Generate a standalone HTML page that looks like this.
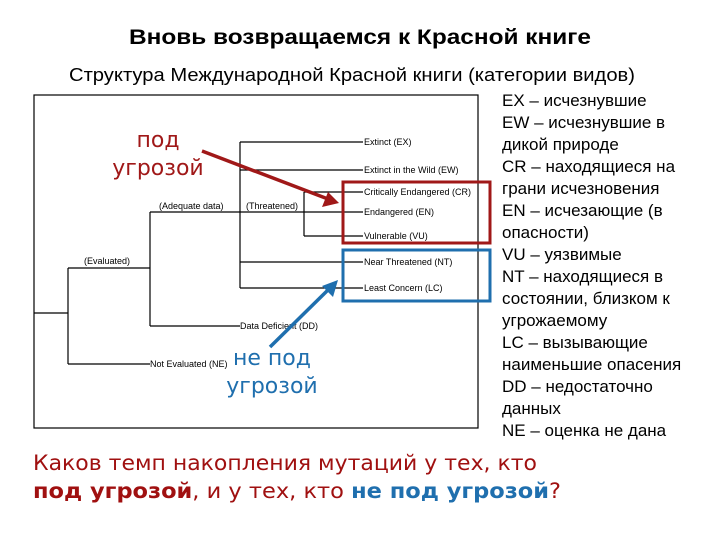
<!DOCTYPE html>
<html><head><meta charset="utf-8"><style>
html,body{margin:0;padding:0;background:#fff;}
svg{display:block}
</style></head><body>
<svg width="720" height="540" viewBox="0 0 720 540" xmlns="http://www.w3.org/2000/svg">
<text x="360" y="44" text-anchor="middle" font-family="Liberation Sans, DejaVu Sans, sans-serif" font-weight="bold" font-size="21" textLength="462" lengthAdjust="spacingAndGlyphs">Вновь возвращаемся к Красной книге</text>
<text x="352" y="81" text-anchor="middle" font-family="Liberation Sans, sans-serif" font-size="18" textLength="566" lengthAdjust="spacingAndGlyphs">Структура Международной Красной книги (категории видов)</text>

<rect x="34" y="95" width="444" height="333" fill="none" stroke="#000" stroke-width="1.2"/>
<g stroke="#000" stroke-width="1.2" fill="none">
<path d="M34 313H68M68 268V364M68 268H150M68 364H150M150 212V326M150 212H363M150 326H240M240 142V288M240 142H363M240 170H363M240 262H363M240 288H363M304 192V236M304 192H363M304 236H363"/>
</g>
<g font-family="Liberation Sans, sans-serif" font-size="9" fill="#000">
<text x="84" y="264">(Evaluated)</text>
<text x="159" y="209">(Adequate data)</text>
<text x="246" y="209">(Threatened)</text>
<text x="364" y="145">Extinct (EX)</text>
<text x="364" y="173">Extinct in the Wild (EW)</text>
<text x="364" y="195">Critically Endangered (CR)</text>
<text x="364" y="215">Endangered (EN)</text>
<text x="364" y="239">Vulnerable (VU)</text>
<text x="364" y="265">Near Threatened (NT)</text>
<text x="364" y="291">Least Concern (LC)</text>
<text x="240" y="329">Data Deficient (DD)</text>
<text x="150" y="367">Not Evaluated (NE)</text>
</g>
<rect x="343" y="182" width="147" height="61" fill="none" stroke="#a01818" stroke-width="3"/>
<rect x="343" y="250" width="147" height="51" fill="none" stroke="#1f6fae" stroke-width="3"/>
<line x1="202" y1="151" x2="328" y2="199" stroke="#a01818" stroke-width="3.5"/>
<polygon points="339,203 322,207 328,192" fill="#a01818"/>
<line x1="270" y1="347" x2="330" y2="288" stroke="#1f6fae" stroke-width="3.5"/>
<polygon points="338,280 333,297 322,286" fill="#1f6fae"/>
<g font-family="DejaVu Sans, sans-serif" font-size="22" fill="#a01818" text-anchor="middle">
<text x="158" y="147">под</text><text x="158" y="175">угрозой</text>
</g>
<g font-family="DejaVu Sans, sans-serif" font-size="22" fill="#1f6fae" text-anchor="middle">
<text x="272" y="365">не под</text><text x="272" y="393">угрозой</text>
</g>
<g font-family="Liberation Sans, sans-serif" font-size="17" fill="#000">
<text x="502" y="106">EX – исчезнувшие</text>
<text x="502" y="128">EW – исчезнувшие в</text>
<text x="502" y="150">дикой природе</text>
<text x="502" y="172">CR – находящиеся на</text>
<text x="502" y="194">грани исчезновения</text>
<text x="502" y="216">EN – исчезающие (в</text>
<text x="502" y="238">опасности)</text>
<text x="502" y="260">VU – уязвимые</text>
<text x="502" y="282">NT – находящиеся в</text>
<text x="502" y="304">состоянии, близком к</text>
<text x="502" y="326">угрожаемому</text>
<text x="502" y="348">LC – вызывающие</text>
<text x="502" y="370">наименьшие опасения</text>
<text x="502" y="392">DD – недостаточно</text>
<text x="502" y="414">данных</text>
<text x="502" y="436">NE – оценка не дана</text>
</g>
<g font-family="DejaVu Sans, sans-serif" font-size="21" fill="#a01010">
<text x="33" y="470" textLength="504" lengthAdjust="spacingAndGlyphs">Каков темп накопления мутаций у тех, кто</text>
<text x="33" y="498" textLength="528" lengthAdjust="spacingAndGlyphs"><tspan font-weight="bold">под угрозой</tspan>, и у тех, кто <tspan font-weight="bold" fill="#1f6fae">не под угрозой</tspan>?</text>
</g>
</svg>
</body></html>
